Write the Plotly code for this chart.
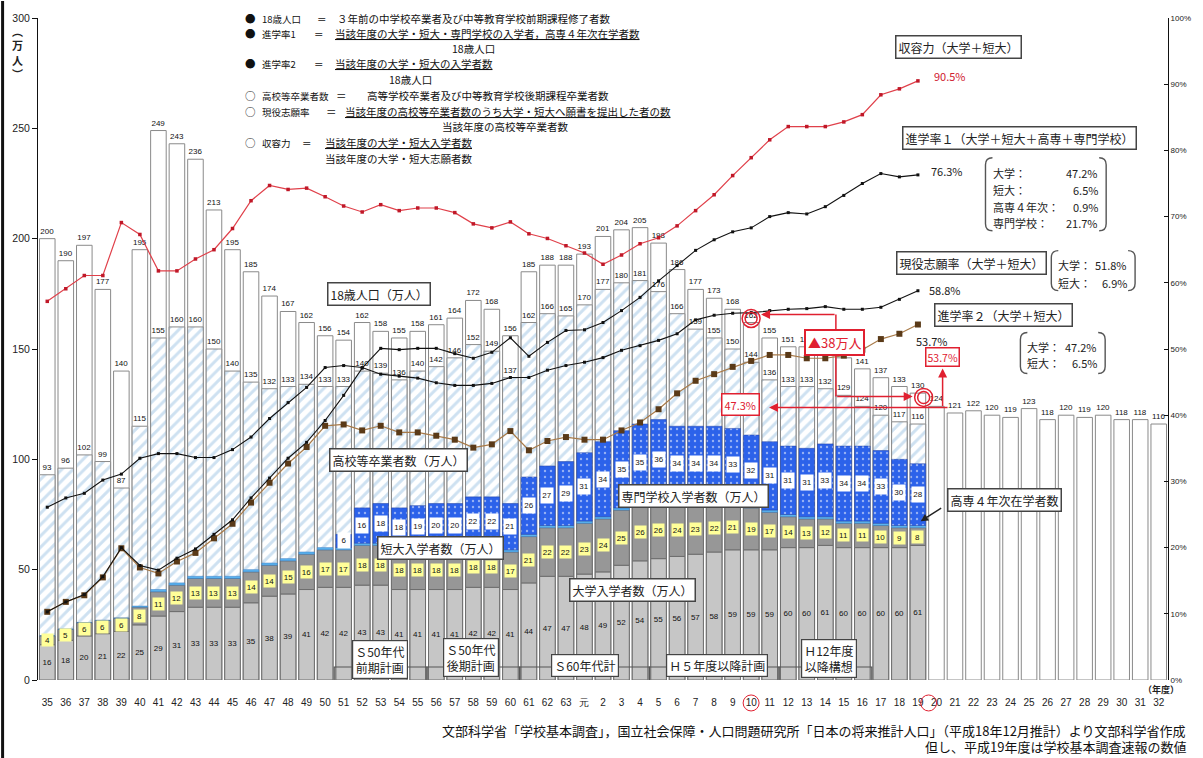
import numpy as np
import plotly.graph_objects as go

# ---------------------------------------------------------------- data
years = ["35", "36", "37", "38", "39", "40", "41", "42", "43", "44",
         "45", "46", "47", "48", "49", "50", "51", "52", "53", "54",
         "55", "56", "57", "58", "59", "60", "61", "62", "63", "元",
         "2", "3", "4", "5", "6", "7", "8", "9", "10", "11",
         "12", "13", "14", "15", "16", "17", "18", "19", "20", "21",
         "22", "23", "24", "25", "26", "27", "28", "29", "30", "31", "32"]

# 18歳人口（万人）
pop18 = [200, 190, 197, 177, 140, 195, 249, 243, 236, 213,
         195, 185, 174, 167, 162, 156, 154, 162, 158, 155,
         158, 161, 164, 172, 168, 156, 185, 188, 188, 193,
         201, 204, 205, 198, 186, 177, 173, 168, 162, 155,
         151, 151, 150, 146, 141, 137, 133, 130, 124, 121,
         122, 120, 119, 123, 118, 120, 119, 120, 118, 118, 116]

# 高校等卒業者数（万人） S35〜H19
grads = [93, 96, 102, 99, 87, 115, 155, 160, 160, 150,
         140, 135, 132, 133, 134, 133, 133, 140, 139, 136,
         140, 142, 146, 152, 149, 137, 162, 166, 165, 170,
         177, 180, 181, 176, 166, 159, 155, 150, 144, 136,
         133, 133, 132, 129, 124, 120, 117, 116]

# 大学入学者数（万人）
univ = [16, 18, 20, 21, 22, 25, 29, 31, 33, 33,
        33, 35, 38, 39, 41, 42, 42, 43, 43, 41,
        41, 41, 41, 42, 42, 41, 44, 47, 47, 48,
        49, 52, 54, 55, 56, 57, 58, 59, 59, 59,
        60, 60, 61, 60, 60, 60, 60, 61]

# 短大入学者数（万人）
junior = [4, 5, 6, 6, 6, 8, 11, 12, 13, 13,
          13, 14, 14, 15, 16, 17, 17, 18, 18, 18,
          18, 18, 18, 18, 18, 17, 21, 22, 22, 23,
          24, 25, 26, 26, 24, 23, 22, 21, 19, 17,
          14, 13, 12, 11, 11, 10, 9, 8]

# 高専４年次在学者数（万人）
kosen = [0, 0, 0, 0, 0, 0.5, 1, 1, 1, 1,
         1, 1, 1, 1, 1, 1, 1, 1, 1, 1,
         1, 1, 1, 1, 1, 1, 1, 1, 1, 1,
         1, 1, 1, 1, 1, 1, 1, 1, 1, 1,
         1, 1, 1, 1, 1, 1, 1, 1]

# 専門学校入学者数（万人） S51〜H19
senmon = [6, 16, 18, 18, 19, 20, 20, 22, 22,
          21, 26, 27, 29, 31,
          34, 35, 35, 36, 34, 34, 34, 33, 32, 31,
          31, 31, 33, 34, 34, 33, 30, 28]

# 収容力（大学＋短大） %
capacity = [57.2, 59.1, 61.1, 61.1, 69.1, 67.3, 61.8, 61.8, 63.6, 65.0,
            68.2, 72.4, 74.7, 74.1, 74.3, 73.0, 71.6, 70.7, 71.8, 70.9,
            71.3, 71.3, 70.6, 68.9, 68.3, 69.2, 67.4, 66.7, 65.6, 64.5,
            62.8, 64.2, 65.9, 66.8, 68.6, 70.9, 73.3, 76.2, 78.9, 81.6,
            83.6, 83.6, 83.6, 84.3, 85.4, 88.4, 89.3, 90.5]

# 進学率１（大学＋短大＋高専＋専門学校） %
rate1 = [10.3, 11.8, 12.9, 15.6, 20.0, 17.3, 16.6, 18.4, 19.8, 22.0,
         24.2, 27.5, 30.5, 33.5, 35.9, 39.2, 43.0, 47.1, 50.1, 49.9,
         50.1, 50.1, 49.3, 48.6, 49.5, 51.7, 48.9, 51.0, 52.8, 52.9,
         54.0, 55.8, 57.8, 60.3, 62.6, 64.9, 66.5, 67.7, 68.3, 70.0,
         70.6, 70.4, 71.5, 73.2, 75.0, 76.5, 76.0, 76.3]

# 現役志願率（大学＋短大） %
applicants = [26.1, 27.5, 28.2, 30.2, 31.1, 33.5, 34.2, 34.2, 33.6, 33.6,
              34.8, 36.7, 39.5, 41.9, 44.2, 47.2, 47.5, 47.2, 46.2, 45.9,
              45.6, 44.9, 44.5, 44.5, 44.8, 45.7, 45.7, 46.8, 47.5, 48.0,
              48.7, 49.8, 50.5, 51.3, 52.3, 54.4, 55.1, 55.4, 55.5, 55.8,
              56.0, 56.1, 56.4, 56.0, 56.0, 56.3, 57.5, 58.8]

# 進学率２（大学＋短大） %
rate2 = [10.3, 11.8, 12.8, 15.5, 19.9, 17.0, 16.1, 17.9, 19.2, 21.4,
         23.6, 26.8, 29.8, 32.7, 35.2, 38.4, 38.6, 37.7, 38.4, 37.4,
         37.4, 36.9, 36.3, 35.1, 35.6, 37.6, 34.7, 36.1, 36.7, 36.3,
         36.3, 37.7, 38.9, 40.9, 43.3, 45.2, 46.2, 47.3, 48.2, 49.1,
         49.1, 48.6, 48.6, 49.0, 49.9, 51.5, 52.3, 53.7]

# ---------------------------------------------------------------- helpers
FONT = "Noto Sans CJK JP"
NUMFONT = "Liberation Sans"
W, H = 1203, 758
L, R, T, B = 37, 1170, 17, 680


def px(x):
    return (x - L) / (R - L)


def py(y):
    return (B - y) / (B - T)


n_obs = len(univ)
x_obs = years[:n_obs]
sen_start = n_obs - len(senmon)
x_sen = years[sen_start:n_obs]

univ_a = np.array(univ, dtype=float)
junior_a = np.array(junior, dtype=float)
kosen_a = np.array(kosen, dtype=float)
base_kosen = univ_a + junior_a
base_senmon = (base_kosen + kosen_a)[sen_start:]

BW = 0.84
fig = go.Figure()

# 18歳人口 (outlined bars)
fig.add_trace(go.Bar(
    x=years, y=pop18, width=BW,
    marker=dict(color="white", line=dict(color="#8a8a8a", width=1)),
    text=[str(v) for v in pop18], textposition="outside",
    textfont=dict(size=8, color="#111", family=NUMFONT),
    constraintext="none", cliponaxis=False))

# 高校等卒業者数 (hatched)
fig.add_trace(go.Bar(
    x=x_obs, y=grads, width=BW,
    marker=dict(color="white", line=dict(color="#8a8a8a", width=1),
                pattern=dict(shape="/", fgcolor="#9ec4e4", size=8, solidity=0.38)),
    text=[str(v) for v in grads], textposition="outside",
    textfont=dict(size=8, color="#111", family=NUMFONT),
    constraintext="none", cliponaxis=False))

# 大学入学者数
fig.add_trace(go.Bar(
    x=x_obs, y=univ, width=BW,
    marker=dict(color="#c6c6c6", line=dict(color="#6e6e6e", width=1)),
    text=[str(v) for v in univ], textposition="inside", insidetextanchor="middle",
    textangle=0, textfont=dict(size=8, color="#111", family=NUMFONT),
    constraintext="none"))

# 短大入学者数
fig.add_trace(go.Bar(
    x=x_obs, y=junior, base=univ_a, width=BW,
    marker=dict(color="#979797", line=dict(color="#6e6e6e", width=1))))

# 高専４年次在学者数
fig.add_trace(go.Bar(
    x=x_obs, y=kosen, base=base_kosen, width=BW,
    marker=dict(color="#5ab4f0", line=dict(color="#3a7ac0", width=0.5))))

# 専門学校入学者数 (dotted blue)
fig.add_trace(go.Bar(
    x=x_sen, y=senmon, base=base_senmon, width=BW,
    marker=dict(color="#2c62ea", line=dict(color="#1e3fa0", width=0.5),
                pattern=dict(shape=".", fgcolor="#ffffff", size=6, solidity=0.12))))

# rate lines on the right axis
fig.add_trace(go.Scatter(
    x=x_obs, y=rate2, yaxis="y2", mode="lines+markers",
    line=dict(color="#a87a48", width=1.2),
    marker=dict(symbol="square", size=6, color="#5a3a18")))
fig.add_trace(go.Scatter(
    x=x_obs, y=rate1, yaxis="y2", mode="lines+markers",
    line=dict(color="#111", width=1.1),
    marker=dict(symbol="square", size=3, color="#111")))
fig.add_trace(go.Scatter(
    x=x_obs, y=applicants, yaxis="y2", mode="lines+markers",
    line=dict(color="#111", width=1.1),
    marker=dict(symbol="square", size=3, color="#111")))
fig.add_trace(go.Scatter(
    x=x_obs, y=capacity, yaxis="y2", mode="lines+markers",
    line=dict(color="#e0404a", width=1.2),
    marker=dict(symbol="square", size=3.5, color="#c01828")))

ann = []
shapes = []

# value boxes on 短大 / 専門 segments (x given as category index)
for i, v in enumerate(junior):
    ann.append(dict(x=i, y=univ_a[i] + v / 2, xref="x", yref="y",
                    text=str(v), showarrow=False, bgcolor="#ffff99",
                    width=11, height=12, borderpad=0,
                    font=dict(size=8, color="#111", family=NUMFONT)))
for j, v in enumerate(senmon):
    ann.append(dict(x=sen_start + j, y=base_senmon[j] + v / 2, xref="x", yref="y",
                    text=str(v), showarrow=False, bgcolor="#ffffff",
                    width=12, height=15, borderpad=0,
                    font=dict(size=8, color="#111", family=NUMFONT)))


def text_at(x, y, s, size=10.5, color="#222", anchor="left", **kw):
    ann.append(dict(x=px(x), y=py(y), xref="paper", yref="paper", text=s,
                    showarrow=False, xanchor=anchor, yanchor="middle",
                    font=dict(size=size, color=color, family=FONT), **kw))


def box_at(x, y, s, size=12, color="#222", border="#444", bw=1.5, pad=2, **kw):
    ann.append(dict(x=px(x), y=py(y), xref="paper", yref="paper", text=s,
                    showarrow=False, xanchor="center", yanchor="middle",
                    bgcolor="white", bordercolor=border, borderwidth=bw,
                    borderpad=pad, font=dict(size=size, color=color, family=FONT), **kw))


# definitions block: (bullet/label/equals/content) pieces
defs = [
    (243, 18, "●"), (260, 18, "18歳人口"), (315, 18, "＝"),
    (335, 18, "３年前の中学校卒業者及び中等教育学校前期課程修了者数"),
    (243, 33, "●"), (260, 33, "進学率1"), (312, 33, "＝"),
    (333, 33, "<u>当該年度の大学・短大・専門学校の入学者，高専４年次在学者数</u>"),
    (450, 48, "18歳人口"),
    (243, 63, "●"), (260, 63, "進学率2"), (312, 63, "＝"),
    (333, 63, "<u>当該年度の大学・短大の入学者数</u>"),
    (387, 79, "18歳人口"),
    (243, 95, "○"), (260, 95, "高校等卒業者数"), (334, 95, "＝"),
    (365, 95, "高等学校卒業者及び中等教育学校後期課程卒業者数"),
    (243, 111, "○"), (260, 111, "現役志願率"), (324, 111, "＝"),
    (343, 111, "<u>当該年度の高校等卒業者数のうち大学・短大へ願書を提出した者の数</u>"),
    (440, 126, "当該年度の高校等卒業者数"),
    (243, 142, "○"), (260, 142, "収容力"), (300, 142, "＝"),
    (323, 142, "<u>当該年度の大学・短大入学者数</u>"),
    (323, 158, "当該年度の大学・短大志願者数"),
]
for x, y, s in defs:
    size = 10.5 if x >= 320 or s in ("●", "○") else 9.5
    text_at(x, y, s, size=size, color="#111")

# series labels
box_at(379, 293, "18歳人口（万人）")
box_at(398, 460, "高校等卒業者数（万人）")
box_at(694, 496, "専門学校入学者数（万人）")
box_at(441, 548, "短大入学者数（万人）")
box_at(633, 590, "大学入学者数（万人）")
box_at(1006, 500, "高専４年次在学者数")
box_at(960, 46, "収容力（大学＋短大）")
box_at(1021, 137, "進学率１（大学＋短大＋高専＋専門学校）")
box_at(973, 262, "現役志願率（大学＋短大）")
box_at(1005, 314, "進学率２（大学＋短大）")

# arrow to the 高専 band
ann.append(dict(x=px(922), y=py(521), xref="paper", yref="paper", text="",
                showarrow=True, arrowhead=2, arrowsize=1, arrowwidth=1.5,
                arrowcolor="#222", ax=22, ay=-14))

# planning periods
plans = [(380, 659, "Ｓ50年代<br>前期計画"), (471, 657, "Ｓ50年代<br>後期計画"),
         (585, 665, "Ｓ60年代計"), (718, 665, "Ｈ５年度以降計画"),
         (830, 658, "Ｈ12年度<br>以降構想")]
for x, y, s in plans:
    box_at(x, y, s, size=12, bw=1.2)
for xs, xe in [(334, 427), (427, 520), (520, 650), (650, 780), (780, 873)]:
    shapes.append(dict(type="path", xref="paper", yref="paper",
                       path=f"M {px(xs)},{py(680)} L {px(xs)},{py(667)} "
                            f"L {px(xe)},{py(667)} L {px(xe)},{py(680)}",
                       line=dict(color="#555", width=1.2)))

# end-value texts
text_at(933, 75, "90.5%", size=11, color="#d02030")
text_at(930, 170, "76.3%", size=11, color="#222")
text_at(928, 289, "58.8%", size=11, color="#222")
text_at(915, 340, "53.7%", size=11, color="#222")


def bracket(x0, y0, x1, y1):
    r = 7
    left = (f"M {px(x0 + r)},{py(y0)} Q {px(x0)},{py(y0)} {px(x0)},{py(y0 + r)} "
            f"L {px(x0)},{py(y1 - r)} Q {px(x0)},{py(y1)} {px(x0 + r)},{py(y1)}")
    right = (f"M {px(x1 - r)},{py(y0)} Q {px(x1)},{py(y0)} {px(x1)},{py(y0 + r)} "
             f"L {px(x1)},{py(y1 - r)} Q {px(x1)},{py(y1)} {px(x1 - r)},{py(y1)}")
    for p in (left, right):
        shapes.append(dict(type="path", xref="paper", yref="paper", path=p,
                           line=dict(color="#555", width=1.4)))


bracket(987, 157, 1108, 230)
for y, lab, val in [(172, "大学：", "47.2%"), (189, "短大：", "6.5%"),
                    (206, "高専４年次：", "0.9%"), (222, "専門学校：", "21.7%")]:
    text_at(993, y, lab, size=11)
    text_at(1102, y, val, size=11, anchor="right")

bracket(1053, 250, 1137, 290)
for y, lab, val in [(264, "大学：", "51.8%"), (282, "短大：", "6.9%")]:
    text_at(1058, y, lab, size=11)
    text_at(1131, y, val, size=11, anchor="right")

bracket(1022, 332, 1107, 373)
for y, lab, val in [(346, "大学：", "47.2%"), (363, "短大：", "6.5%")]:
    text_at(1027, y, lab, size=11)
    text_at(1101, y, val, size=11, anchor="right")

# red call-outs
RED = "#e02030"
box_at(836, 342, "▲38万人", size=13, color=RED, border=RED, bw=2)
box_at(741, 404, "47.3%", size=11, color=RED, border=RED, bw=1.5)
box_at(944, 357, "53.7%", size=10.5, color=RED, border=RED, bw=1.5, pad=1)


def arrow(x_tail, y_tail, x_head, y_head):
    ann.append(dict(x=px(x_head), y=py(y_head), xref="paper", yref="paper",
                    text="", showarrow=True, arrowhead=2, arrowsize=1.2,
                    arrowwidth=1.5, arrowcolor=RED,
                    ax=x_tail - x_head, ay=y_tail - y_head))


def seg(x0, y0, x1, y1):
    shapes.append(dict(type="line", xref="paper", yref="paper",
                       x0=px(x0), y0=py(y0), x1=px(x1), y1=py(y1),
                       line=dict(color=RED, width=1.5)))


arrow(837, 314, 762, 314)
seg(837, 314, 837, 333)
seg(837, 352, 837, 396)
arrow(837, 396, 914, 396)
arrow(950, 407, 770, 407)
arrow(944, 407, 944, 368)


def ring(cx, cy, r, w=1.5):
    shapes.append(dict(type="circle", xref="paper", yref="paper",
                       x0=px(cx - r), x1=px(cx + r), y0=py(cy + r), y1=py(cy - r),
                       line=dict(color=RED, width=w)))


ring(752, 318, 9)
ring(752, 318, 6)
ring(925, 397, 9)
ring(925, 397, 6)
ring(752, 703, 8, 1)
ring(930, 703, 8, 1)

# axis captions and source notes
text_at(1143, 690, "<b>（年度）</b>", size=9, color="#222")
ann.append(dict(x=px(16), y=py(52), xref="paper", yref="paper",
                text="<b>︵<br>万<br>人<br>︶</b>", showarrow=False,
                xanchor="center", yanchor="middle",
                font=dict(size=11, color="#222", family=FONT)))
text_at(1190, 731, "文部科学省「学校基本調査」，国立社会保障・人口問題研究所「日本の将来推計人口」（平成18年12月推計）より文部科学省作成",
        size=13, color="#111", anchor="right")
text_at(1190, 747, "但し、平成19年度は学校基本調査速報の数値",
        size=13, color="#111", anchor="right")

# left frame bar
shapes.append(dict(type="rect", xref="paper", yref="paper",
                   x0=px(0), x1=px(3), y0=py(758), y1=py(0),
                   fillcolor="#111", line=dict(width=0)))

fig.update_layout(
    width=W, height=H,
    margin=dict(l=L, r=W - R, t=T, b=H - B, pad=0),
    paper_bgcolor="white", plot_bgcolor="white",
    barmode="overlay", showlegend=False,
    font=dict(family=FONT, size=10, color="#222"),
    xaxis=dict(type="category", categoryorder="array", categoryarray=years,
               range=[-0.5, len(years) - 0.5], showgrid=False, showline=False,
               zeroline=False, ticks="", ticklabelstandoff=15,
               tickfont=dict(size=10, color="#222", family=NUMFONT)),
    yaxis=dict(range=[0, 300], dtick=50, showgrid=False, zeroline=False,
               showline=True, linecolor="#111", linewidth=1,
               ticks="outside", ticklen=5, tickcolor="#111",
               tickfont=dict(size=10.5, color="#222", family=NUMFONT)),
    yaxis2=dict(range=[0, 100], dtick=10, overlaying="y", side="right",
                ticksuffix="%", showgrid=False, zeroline=False,
                showline=True, linecolor="#111", linewidth=1,
                ticks="inside", ticklen=4, tickcolor="#111",
                tickfont=dict(size=8, color="#222", family=NUMFONT)),
    annotations=ann, shapes=shapes,
)

fig.write_html("out.html")
